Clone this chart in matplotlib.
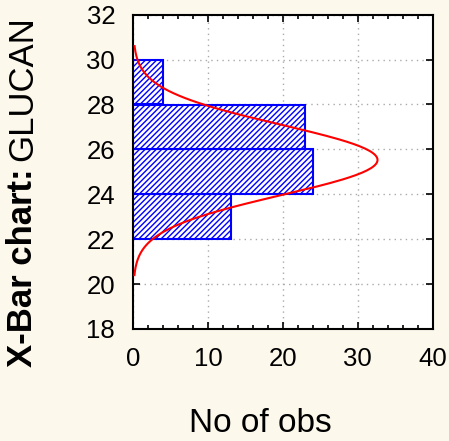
import numpy as np
import matplotlib
matplotlib.use('Agg')
from matplotlib import pyplot as plt

# histogram of GLUCAN x-bar values (horizontal)
bin_lo = [22, 24, 26, 28]
counts = [13, 24, 23, 4]
bin_w = 2
# fitted normal curve parameters
fit_mean = 25.53
fit_sd = 1.565
curve_lo, curve_hi = 20.4, 30.6

plt.rcParams['font.family'] = ['Liberation Sans', 'DejaVu Sans']
plt.rcParams['hatch.color'] = '#0000ff'
plt.rcParams['hatch.linewidth'] = 1.0

bg = '#fdf8ec'
fig = plt.figure(figsize=(4.49, 4.41), dpi=100, facecolor=bg)
ax = fig.add_axes([133.3/449, 1-329/441, (432.7-133.3)/449, (329-14.7)/441])

ax.barh(bin_lo, counts, height=bin_w, align='edge', color='white',
        edgecolor='#0000ff', linewidth=1.5, hatch='//////', zorder=2)

ys = np.linspace(curve_lo, curve_hi, 200)
n = sum(counts)
xs = n*bin_w/(fit_sd*np.sqrt(2*np.pi))*np.exp(-0.5*((ys-fit_mean)/fit_sd)**2)
ax.plot(xs, ys, color='#ff0000', lw=1.5, zorder=3)

ax.set_xlim(0, 40)
ax.set_ylim(18, 32)
ax.set_xticks(range(0, 41, 10))
ax.set_xticks(range(0, 41, 2), minor=True)
ax.set_yticks(range(18, 33, 2))
ax.grid(True, color='#aaaaaa', linestyle=(0, (1, 3)), linewidth=1.0, zorder=0)
ax.set_axisbelow(True)
ax.tick_params(which='both', direction='in', top=True, right=True,
               labelsize=18.5, width=1.2, pad=13)
ax.tick_params(which='major', length=5)
ax.tick_params(which='minor', length=3)
for s in ax.spines.values():
    s.set_linewidth(1.5)

fig.text(260.7/449, 1-423/441, 'No of obs', fontsize=24, ha='center', va='center')

# y label: bold part + regular part
t1 = fig.text(23/449, 1-367/441, 'X-Bar chart:', fontsize=25, fontweight='bold',
              rotation=90, ha='center', va='bottom')
fig.canvas.draw()
bb = t1.get_window_extent()
fig.text(23/449, (bb.y1 + 7)/441, 'GLUCAN', fontsize=25,
         rotation=90, ha='center', va='bottom')

fig.savefig('out.png', dpi=100, facecolor=bg)
